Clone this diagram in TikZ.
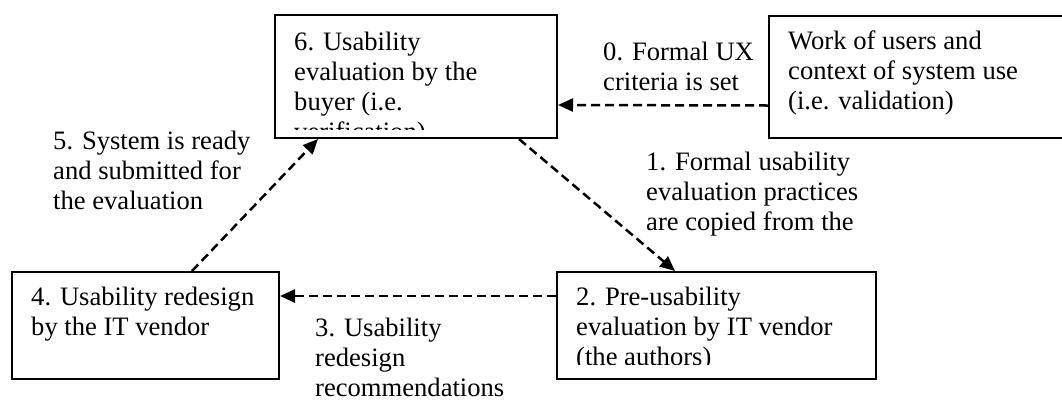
\documentclass[tikz,border=0pt]{standalone}
\usepackage{fontspec}
\setmainfont{Liberation Serif}
\usetikzlibrary{arrows.meta}

\tikzset{
  stage/.style={draw, line width=2pt, inner sep=0pt, anchor=north west},
  stagetext/.style={anchor=base west, align=left, inner sep=0pt, font=\fontsize{26.6}{30}\selectfont},
  flow/.style={line width=2.5pt, dash pattern=on 9pt off 5pt, -{Triangle[length=15pt,width=13pt]}},
}

\begin{document}
\begin{tikzpicture}[x=1pt, y=-1pt]
		\useasboundingbox (0,0) rectangle (1062,400);
		% the four stages and the users' work
		\node[stage, minimum width=282pt, minimum height=123pt] (b6) at (274,14) {};
		\node[stage, minimum width=300pt, minimum height=122pt] (w) at (768,15) {};
		\node[stage, minimum width=267pt, minimum height=107pt] (b4) at (11,271) {};
		\node[stage, minimum width=319pt, minimum height=107pt] (b2) at (556,271) {};

		% texts sit on the baseline of their last line
		\begin{scope}
			\clip (274,14) rectangle (556,129);
			\node[stagetext] (t6) at (294,140) {6. Usability\\evaluation by the\\buyer (i.e.\\verification)};
		\end{scope}
		\node[stagetext] (tw) at (788,109) {Work of users and\\context of system use\\(i.e. validation)};
		\node[stagetext] (t4) at (31,335) {4. Usability redesign\\by the IT vendor};
		\begin{scope}
			\clip (556,271) rectangle (875,364);
			\node[stagetext] (t2) at (576,365) {2. Pre-usability\\evaluation by IT vendor\\(the authors)};
		\end{scope}

		% flows
		\draw[flow] ([yshift=-28.5pt]w.west) -- ([yshift=-28.5pt]b6.east);
		\draw[flow] ([xshift=103pt]b6.south) -- ([xshift=-41.5pt]b2.north);
		\draw[flow] ([yshift=29.5pt]b2.west) -- ([yshift=29.5pt]b4.east);
		\draw[flow] ([xshift=46.5pt]b4.north) -- ([xshift=-98pt]b6.south);

		\node[stagetext] (l0) at (603,90) {0. Formal UX\\criteria is set};
		\node[stagetext] (l1) at (646,230) {1. Formal usability\\evaluation practices\\are copied from the};
		\node[stagetext] (l3) at (315,396) {3. Usability\\redesign\\recommendations};
		\node[stagetext] (l5) at (53,209) {5. System is ready\\and submitted for\\the evaluation};
\end{tikzpicture}
\end{document}
